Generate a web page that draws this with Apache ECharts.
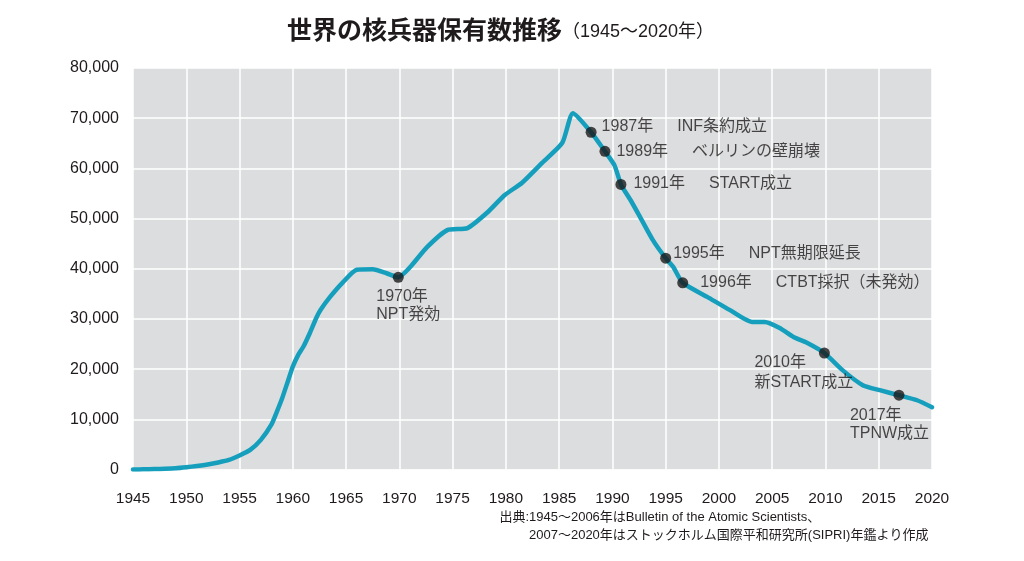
<!DOCTYPE html>
<html><head><meta charset="utf-8">
<script src="https://cdn.jsdelivr.net/npm/echarts@6/dist/echarts.min.js"></script>
<style>html,body{margin:0;padding:0;background:#fff}#c{width:1024px;height:561px}</style>
</head><body><div id="c"></div>
<script>
// ---- data ----
const years = [1945,1946,1947,1948,1949,1950,1951,1952,1953,1954,1955,1956,1957,1958,1958.5,1959,1959.6,1960,1960.5,1961,1961.6,1962.2,1962.6,1963.5,1964.7,1966,1967.5,1968.8,1969.9,1971,1972.6,1974.5,1976.4,1978.2,1979.9,1981.5,1983.4,1985.3,1986.3,1988.0,1989.3,1990.2,1990.8,1991.7,1992.6,1993.8,1995.0,1995.7,1996.6,1998.9,2001.0,2003.1,2004.3,2005.7,2007.0,2008.3,2009.9,2011.6,2013.5,2015.1,2016.9,2018.6,2020];
const stockpile = [0,30,80,150,250,450,700,1000,1400,1900,2800,3900,5900,9000,11500,14200,18000,20500,22800,24500,27200,30200,31800,34400,37300,39800,39900,39100,38300,40300,44300,47700,48100,51100,54700,57100,61100,65100,71000,67200,63400,60600,56800,53700,50300,45700,42100,40400,37200,34400,31800,29400,29400,28200,26400,25200,23200,19800,16800,15800,14800,13800,12400];

const eventYears  = [1988.0, 1989.3, 1990.8, 1995.0, 1996.6, 1969.9, 2009.9, 2016.9];
const eventValues = [67200, 63400, 56800, 42100, 37200, 38300, 23200, 14800];
const eventLabels = [
  '1987年\u3000\u2002INF条約成立',
  '1989年\u3000\u2002ベルリンの壁崩壊',
  '1991年\u3000\u2002START成立',
  '1995年\u3000\u2002NPT無期限延長',
  '1996年\u3000\u2002CTBT採択（未発効）',
  '1970年\nNPT発効',
  '2010年\n新START成立',
  '2017年\nTPNW成立'
];

const xMin = 1945, xMax = 2020, xStep = 5;
const yMin = 0, yMax = 80000, yStep = 10000;

const titleMain = '世界の核兵器保有数推移';
const titleSub = '（1945〜2020年）';
const sourceHead = '出典:';
const sourceLines = ['1945〜2006年はBulletin of the Atomic Scientists、', '2007〜2020年はストックホルム国際平和研究所(SIPRI)年鑑より作成'];

// ---- label layout (style only) ----
const labelLayout = [
  {pos:[16,-0.5], va:'middle', lh:18},
  {pos:[17,5.5], va:'middle', lh:18},
  {pos:[18,4.5], va:'middle', lh:18},
  {pos:[13,0.5], va:'middle', lh:18},
  {pos:[23,5.5], va:'middle', lh:18},
  {pos:[-16.5,15.5], va:'top', lh:18},
  {pos:[-64.5,5.5], va:'top', lh:20},
  {pos:[-43.5,16.5], va:'top', lh:18}
];

const FONT = "'Liberation Sans','Noto Sans CJK JP',sans-serif";
const TXT = '#1f1b1c';

const chart = echarts.init(document.getElementById('c'), null, {renderer:'canvas'});
chart.setOption({
  animation:false,
  backgroundColor:'#ffffff',
  textStyle:{fontFamily:FONT},
  title:{
    left:287, top:17, padding:0,
    text:'{a|'+titleMain+'}{b|'+titleSub+'}',
    textStyle:{
      rich:{
        a:{fontSize:25, fontWeight:'bold', color:TXT, fontFamily:FONT, lineHeight:30},
        b:{fontSize:18, fontWeight:'normal', color:TXT, fontFamily:FONT, lineHeight:30}
      }
    }
  },
  grid:{left:133, right:92, top:68, bottom:91.5, show:true, backgroundColor:'#dcdddf', borderWidth:0},
  xAxis:{
    type:'value', min:xMin, max:xMax, interval:xStep,
    axisLine:{show:false}, axisTick:{show:false},
    axisLabel:{margin:21, fontSize:15.5, color:TXT, fontFamily:FONT, formatter:v=>String(v)},
    splitLine:{show:true, lineStyle:{color:'#ffffff', width:1.5}}
  },
  yAxis:{
    type:'value', min:yMin, max:yMax, interval:yStep,
    axisLine:{show:false}, axisTick:{show:false},
    axisLabel:{margin:14, fontSize:16, color:TXT, fontFamily:FONT,
      formatter:v=>v.toLocaleString('en-US')},
    splitLine:{show:true, lineStyle:{color:'#ffffff', width:1.5}}
  },
  series:[
    {
      type:'line',
      data:years.map((y,i)=>[y, stockpile[i]]),
      showSymbol:false, smooth:0.2,
      lineStyle:{color:'#159fbd', width:4.5, cap:'round', join:'round'},
      z:2
    },
    {
      type:'scatter',
      symbol:'circle', symbolSize:11,
      itemStyle:{color:'#1a1a1a'},
      z:3,
      data:eventYears.map((y,i)=>({
        value:[y, eventValues[i]],
        label:{
          show:true, formatter:eventLabels[i],
          position:labelLayout[i].pos, align:'left', verticalAlign:labelLayout[i].va,
          fontSize:16, lineHeight:labelLayout[i].lh, color:TXT, fontFamily:FONT
        }
      }))
    }
  ],
  graphic:[
    {type:'text', x:529, y:517, style:{text:sourceHead, align:'right', verticalAlign:'middle', font:"13px "+FONT, fill:TXT}},
    {type:'text', x:529, y:517, style:{text:sourceLines[0], align:'left', verticalAlign:'middle', font:"13px "+FONT, fill:TXT}},
    {type:'text', x:529, y:535, style:{text:sourceLines[1], align:'left', verticalAlign:'middle', font:"13px "+FONT, fill:TXT}}
  ]
});
</script></body></html>
